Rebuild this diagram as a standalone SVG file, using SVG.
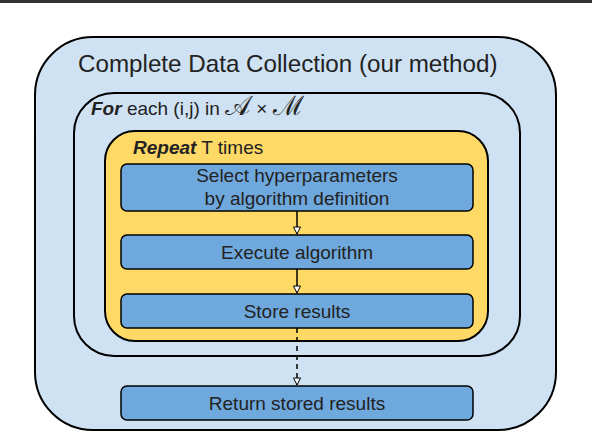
<svg xmlns="http://www.w3.org/2000/svg" width="592" height="434" viewBox="0 0 592 434">
<style>
.frame{stroke:#000;stroke-width:2}
.outer{fill:#cfe2f3}
.yellow{fill:#ffd966}
.step{fill:#6fa8dc;stroke:#000;stroke-width:1.5}
text{font-family:"Liberation Sans",Arial,sans-serif;fill:#222}
.lbl{font-size:19px;text-anchor:middle}
.math{font-family:"DejaVu Serif",serif;font-size:27px}
.conn{stroke:#000;stroke-width:1.5;fill:none}
</style>
<defs>
<marker id="arr" markerWidth="10" markerHeight="10" refX="8" refY="5" orient="auto" markerUnits="userSpaceOnUse">
<path d="M1,1.5 L8,5 L1,8.5 Z" fill="#fff" stroke="#000" stroke-width="1"/>
</marker>
</defs>
<rect x="0" y="0" width="592" height="3" fill="#333"/>
<g id="outer">
<rect class="frame outer" x="35" y="37" width="521" height="393" rx="58" ry="58"/>
<text x="78" y="72" font-size="24.2">Complete Data Collection (our method)</text>
</g>
<g id="for-loop">
<rect class="frame outer" x="74" y="93" width="446" height="263" rx="40" ry="40"/>
<text x="91" y="115" font-size="19"><tspan font-weight="bold" font-style="italic">For</tspan> each (i,j) in <tspan class="math">𝒜</tspan> × <tspan class="math">ℳ</tspan></text>
</g>
<g id="repeat-loop">
<rect class="frame yellow" x="105" y="131" width="383" height="210" rx="30" ry="30"/>
<text x="133" y="154" font-size="19"><tspan font-weight="bold" font-style="italic">Repeat</tspan> T times</text>
</g>
<g id="select">
<rect class="step" x="121" y="164" width="352" height="47" rx="6" ry="6"/>
<text class="lbl" x="297" y="182">Select hyperparameters</text>
<text class="lbl" x="297" y="205">by algorithm definition</text>
</g>
<g id="execute">
<rect class="step" x="121" y="235" width="352" height="34" rx="6" ry="6"/>
<text class="lbl" x="297" y="259">Execute algorithm</text>
</g>
<g id="store">
<rect class="step" x="121" y="294" width="352" height="34" rx="6" ry="6"/>
<text class="lbl" x="297" y="318">Store results</text>
</g>
<g id="return">
<rect class="step" x="121" y="386" width="352" height="34" rx="6" ry="6"/>
<text class="lbl" x="297" y="410">Return stored results</text>
</g>
<g id="connectors">
<line class="conn" x1="297" y1="211" x2="297" y2="234" marker-end="url(#arr)"/>
<line class="conn" x1="297" y1="269" x2="297" y2="293" marker-end="url(#arr)"/>
<line class="conn" x1="297" y1="328" x2="297" y2="385" stroke-dasharray="5,4" marker-end="url(#arr)"/>
</g>
</svg>
